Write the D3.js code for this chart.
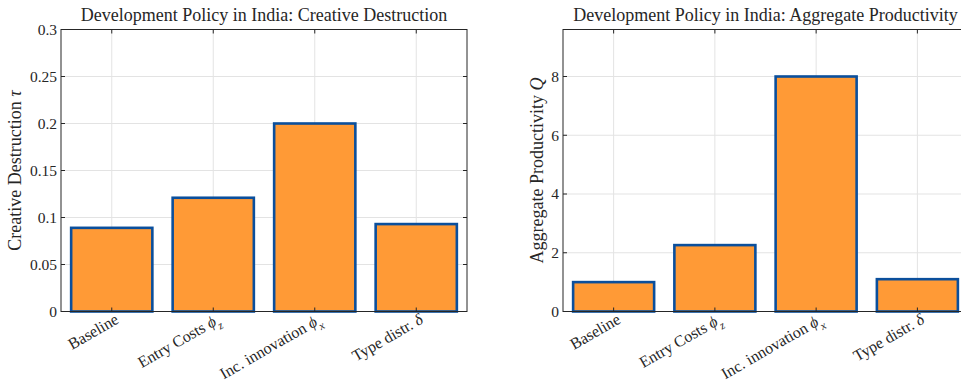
<!DOCTYPE html>
<html>
<head>
<meta charset="utf-8">
<script src="https://cdn.jsdelivr.net/npm/d3@7"></script>
<style>
  html, body { margin: 0; padding: 0; background: #fff; }
  svg { display: block; }
  text { font-family: "Liberation Serif", "DejaVu Serif", serif; fill: #262626; }
</style>
</head>
<body>
<svg id="chart" width="961" height="387"></svg>
<script>
// Policy scenarios and model outcomes
const categories = ["Baseline", "Entry Costs", "Inc. innovation", "Type distr."];
const categorySymbols = [null, {sym: "ϕ", sub: "z"}, {sym: "ϕ", sub: "x"}, {sym: "δ", sub: null}];
const creativeDestruction = [0.089, 0.121, 0.200, 0.093];
const aggregateProductivity = [1.00, 2.26, 8.00, 1.10];
const tauTicks = [0, 0.05, 0.1, 0.15, 0.2, 0.25, 0.3];
const tauTickLabels = ["0", "0.05", "0.1", "0.15", "0.2", "0.25", "0.3"];
const qTicks = [0, 2, 4, 6, 8];
const qTickLabels = ["0", "2", "4", "6", "8"];

const svg = d3.select("#chart");
const axisColor = "#262626";
const gridColor = "#e3e3e3";
const barFill = "#ff9a36";
const barEdge = "#0b4f9c";

function panel(opts) {
  const {left, right, top, bottom, values, yMax, ticks, tickLabels, title, ylabel, ylabelSym, ylabelX} = opts;
  const g = svg.append("g");
  const x = d3.scaleLinear().domain([0.5, 4.5]).range([left, right]);
  const y = d3.scaleLinear().domain([0, yMax]).range([bottom, top]);
  const idx = categories.map((_, i) => i + 1);

  // grid
  g.selectAll(".hgrid").data(ticks).join("line")
    .attr("x1", left).attr("x2", right)
    .attr("y1", d => y(d)).attr("y2", d => y(d))
    .attr("stroke", gridColor).attr("stroke-width", 1);
  g.selectAll(".vgrid").data(idx).join("line")
    .attr("x1", d => x(d)).attr("x2", d => x(d))
    .attr("y1", top).attr("y2", bottom)
    .attr("stroke", gridColor).attr("stroke-width", 1);

  // bars
  const bw = (x(1.4) - x(0.6));
  g.selectAll(".bar").data(values).join("rect")
    .attr("x", (d, i) => x(i + 1) - bw / 2)
    .attr("width", bw)
    .attr("y", d => y(d))
    .attr("height", d => y(0) - y(d))
    .attr("fill", barFill)
    .attr("stroke", barEdge)
    .attr("stroke-width", 2.6);

  // box
  g.append("rect").attr("x", left).attr("y", top)
    .attr("width", right - left).attr("height", bottom - top)
    .attr("fill", "none").attr("stroke", axisColor).attr("stroke-width", 1);

  // inward ticks on all four sides
  const tl = 4;
  g.selectAll(".yt").data(ticks).join("path")
    .attr("d", d => `M${left},${y(d)}h${tl}M${right},${y(d)}h${-tl}`)
    .attr("stroke", axisColor).attr("stroke-width", 1);
  g.selectAll(".xt").data(idx).join("path")
    .attr("d", d => `M${x(d)},${bottom}v${-tl}M${x(d)},${top}v${tl}`)
    .attr("stroke", axisColor).attr("stroke-width", 1);

  // y tick labels
  g.selectAll(".ytl").data(ticks).join("text")
    .attr("x", left - 4).attr("y", d => y(d))
    .attr("dy", "0.35em")
    .attr("text-anchor", "end")
    .attr("font-size", 15.5)
    .text((d, i) => tickLabels[i]);

  // x tick labels, rotated 30 degrees
  idx.forEach((d, i) => {
    const t = g.append("text")
      .attr("transform", `translate(${x(d) + 4},${bottom + 4}) rotate(-30)`)
      .attr("text-anchor", "end")
      .attr("dy", "0.5em")
      .attr("font-size", 16);
    t.append("tspan").text(categories[i]);
    const s = categorySymbols[i];
    if (s) {
      t.append("tspan").text(" ");
      t.append("tspan").attr("font-style", "italic").text(s.sym);
      if (s.sub) t.append("tspan").attr("font-style", "italic").attr("font-size", 11.5)
        .attr("baseline-shift", "sub").text(s.sub);
    }
  });

  // title
  g.append("text").attr("x", (left + right) / 2).attr("y", 21)
    .attr("text-anchor", "middle").attr("font-size", 18).text(title);

  // y label
  const yl = g.append("text")
    .attr("transform", `translate(${ylabelX},${(top + bottom) / 2}) rotate(-90)`)
    .attr("text-anchor", "middle").attr("font-size", 18);
  yl.append("tspan").text(ylabel + " ");
  yl.append("tspan").attr("font-style", "italic").text(ylabelSym);
}

panel({
  left: 61, right: 467, top: 29.5, bottom: 311.5,
  values: creativeDestruction, yMax: 0.3, ticks: tauTicks, tickLabels: tauTickLabels,
  title: "Development Policy in India: Creative Destruction",
  ylabel: "Creative Destruction", ylabelSym: "τ", ylabelX: 21
});
panel({
  left: 563, right: 968, top: 29.5, bottom: 311.5,
  values: aggregateProductivity, yMax: 9.6, ticks: qTicks, tickLabels: qTickLabels,
  title: "Development Policy in India: Aggregate Productivity",
  ylabel: "Aggregate Productivity", ylabelSym: "Q", ylabelX: 543
});
</script>
</body>
</html>
